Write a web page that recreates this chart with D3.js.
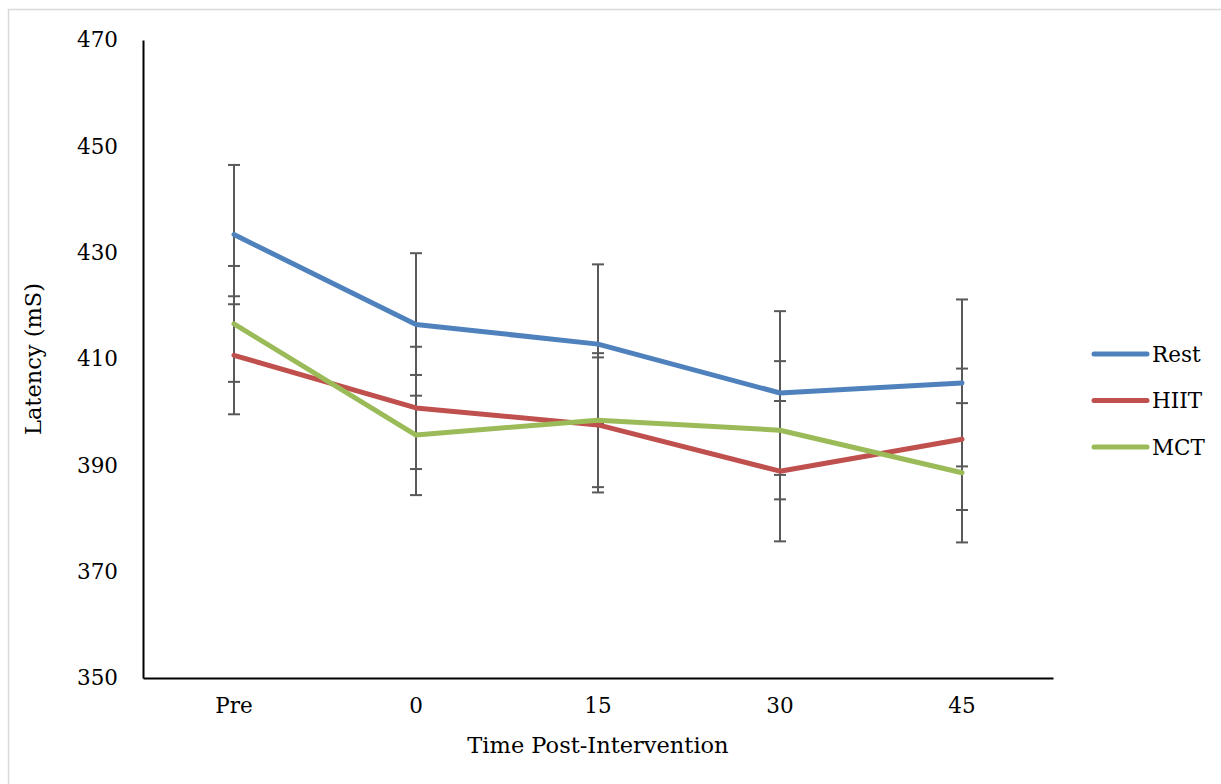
<!DOCTYPE html>
<html><head><meta charset="utf-8">
<script src="https://cdn.jsdelivr.net/npm/d3@7"></script>
<style>body{margin:0;background:#fff}svg{display:block}text{font-family:"DejaVu Serif","Liberation Serif",serif;fill:#000}</style>
</head><body><svg id="c" width="1221" height="784"></svg>
<script>
const categories = ["Pre","0","15","30","45"];
const seriesNames = ["Rest","HIIT","MCT"];
const restValues = [433.4,416.5,412.8,403.6,405.5];
const hiitValues = [410.7,400.8,397.6,388.9,394.9];
const mctValues = [416.6,395.7,398.5,396.6,388.6];
const restErr = [13.1,13.4,15.0,15.4,15.7];
const hiitErr = [11.1,11.5,12.7,13.2,13.3];
const mctErr = [10.9,11.3,12.6,13.0,13.1];
const yTicks = [350,370,390,410,430,450,470];
const colors = ["#4f81bd","#c0504d","#9bbb59"];

const series = [
  {name:seriesNames[0], values:restValues, err:restErr, color:colors[0]},
  {name:seriesNames[1], values:hiitValues, err:hiitErr, color:colors[1]},
  {name:seriesNames[2], values:mctValues, err:mctErr, color:colors[2]}
];

const svg = d3.select("#c");
svg.append("rect").attr("x",8.5).attr("y",9.5).attr("width",1220).attr("height",780)
  .attr("fill","none").attr("stroke","#d9d9d9").attr("stroke-width",1.5);

const L=143, R=1053, T=40, B=678;
const x = d3.scaleBand().domain(categories).range([L,R]);
const y = d3.scaleLinear().domain([350,470]).range([B,T]);
const fs = 21.5;

// y axis
const ya = svg.append("g").attr("transform",`translate(${L},0)`)
  .call(d3.axisLeft(y).tickValues(yTicks).tickSize(0).tickPadding(25).tickFormat(d3.format("d")));
ya.select(".domain").attr("stroke","#000").attr("stroke-width",2);
ya.selectAll("text").attr("font-size",fs).attr("font-family",'"DejaVu Serif",serif');

// x axis
const xa = svg.append("g").attr("transform",`translate(0,${B})`)
  .call(d3.axisBottom(x).tickSize(0).tickPadding(20));
xa.select(".domain").attr("stroke","#000").attr("stroke-width",2);
xa.selectAll("text").attr("font-size",fs).attr("font-family",'"DejaVu Serif",serif');

const cx = d => x(d) + x.bandwidth()/2;

// error bars
const eb = svg.append("g");
series.forEach(s=>{
  categories.forEach((c,i)=>{
    const v=s.values[i], e=s.err[i], xx=cx(c);
    eb.append("line").attr("x1",xx).attr("x2",xx).attr("y1",y(v+e)).attr("y2",y(v-e))
      .attr("stroke","#595959").attr("stroke-width",2);
    [v+e,v-e].forEach(w=>eb.append("line").attr("x1",xx-6).attr("x2",xx+6).attr("y1",y(w)).attr("y2",y(w))
      .attr("stroke","#595959").attr("stroke-width",2));
  });
});

// lines
const line = d3.line().x((d,i)=>cx(categories[i])).y(d=>y(d));
series.forEach(s=>{
  svg.append("path").datum(s.values).attr("d",line).attr("fill","none")
    .attr("stroke",s.color).attr("stroke-width",5).attr("stroke-linecap","round").attr("stroke-linejoin","round");
});

// legend
const lg = svg.append("g");
series.forEach((s,i)=>{
  const yy = 354 + i*46.5;
  lg.append("line").attr("x1",1094).attr("x2",1147).attr("y1",yy).attr("y2",yy)
    .attr("stroke",s.color).attr("stroke-width",5).attr("stroke-linecap","round");
  lg.append("text").attr("x",1152).attr("y",yy).attr("dy","0.35em").attr("font-size",fs).text(s.name);
});

// axis titles
svg.append("text").attr("x",(L+R)/2).attr("y",753).attr("text-anchor","middle").attr("font-size",22.5).text("Time Post-Intervention");
svg.append("text").attr("transform","translate(41,359) rotate(-90)").attr("text-anchor","middle").attr("font-size",22.5).text("Latency (mS)");
</script></body></html>
